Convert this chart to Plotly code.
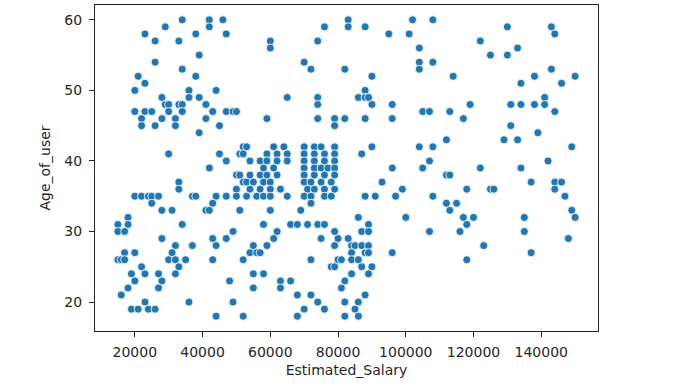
import plotly.graph_objects as go

# Estimated salary of each user, grouped by age row
estimated_salary = [
    34000, 42000, 46000, 83000, 102000, 108000,
    29000, 42000, 76000, 83000, 88000, 130000, 143000,
    23000, 38000, 47000, 95000, 101000, 144000,
    26000, 33000, 60000, 74000, 122000,
    60000, 104000, 133000,
    39000, 125000, 130000,
    26000, 70000, 104000, 108000,
    34000, 72000, 82000, 104000, 143000,
    21000, 38000, 90000, 114000, 138000, 150000,
    23000, 134000, 146000,
    20000, 36000, 44000, 88000,
    28000, 36000, 39000, 65000, 74000, 86000, 88000, 89000, 141000,
    29000, 30000, 33000, 34000, 41000, 74000, 90000, 96000, 119000, 131000, 134000, 138000, 141000,
    20000, 23000, 25000, 30000, 34000, 43000, 47000, 49000, 50000, 105000, 107000, 113000, 144000,
    22000, 28000, 32000, 41000, 59000, 74000, 79000, 82000, 88000, 96000, 117000,
    22000, 26000, 32000, 45000, 79000, 131000,
    39000, 139000,
    112000, 129000, 133000,
    52000, 53000, 61000, 64000, 70000, 73000, 75000, 79000, 90000, 104000, 108000, 149000,
    30000, 45000, 51000, 52000, 59000, 62000, 65000, 70000, 73000, 76000, 79000, 87000,
    47000, 54000, 57000, 59000, 62000, 65000, 70000, 73000, 76000, 79000, 107000, 142000,
    42000, 58000, 61000, 70000, 73000, 75000, 77000, 79000, 96000, 105000, 122000, 134000,
    50000, 51000, 54000, 57000, 59000, 62000, 70000, 73000, 76000, 79000, 112000, 113000,
    33000, 52000, 53000, 55000, 58000, 60000, 70000, 72000, 75000, 78000, 93000, 137000, 144000, 146000,
    33000, 50000, 54000, 57000, 60000, 63000, 71000, 73000, 76000, 79000, 99000, 118000, 125000, 126000, 144000,
    20000, 22000, 24000, 25000, 27000, 37000, 38000, 44000, 47000, 50000, 53000, 56000, 58000, 60000,
    65000, 70000, 72000, 76000, 78000, 88000, 91000, 97000, 108000, 147000,
    25000, 43000, 72000, 112000, 115000,
    28000, 31000, 41000, 42000, 51000, 60000, 69000, 113000, 149000,
    18000, 86000, 100000, 117000, 120000, 135000, 150000,
    15000, 18000, 34000, 58000, 66000, 68000, 71000, 74000, 76000, 89000, 118000,
    15000, 17000, 49000, 62000, 79000, 87000, 89000, 107000, 116000, 135000,
    28000, 43000, 47000, 61000, 75000, 80000, 83000, 148000,
    32000, 37000, 44000, 55000, 59000, 79000, 84000, 85000, 87000, 89000, 123000,
    17000, 20000, 31000, 54000, 56000, 57000, 84000, 88000, 89000, 96000, 137000,
    15000, 16000, 17000, 30000, 32000, 35000, 43000, 52000, 72000, 80000, 81000, 84000, 86000, 118000,
    22000, 33000, 78000, 79000, 87000, 90000,
    19000, 23000, 27000, 32000, 55000, 58000, 84000, 89000,
    20000, 28000, 48000, 63000, 66000, 82000,
    18000, 27000, 55000, 63000, 81000,
    16000, 68000, 72000, 88000,
    23000, 36000, 49000, 74000, 82000, 86000,
    19000, 21000, 24000, 26000, 70000, 76000, 85000,
    44000, 52000, 68000, 82000, 86000,
]

# Age of each user, same order as estimated_salary
age_of_user = [
    60, 60, 60, 60, 60, 60,
    59, 59, 59, 59, 59, 59, 59,
    58, 58, 58, 58, 58, 58,
    57, 57, 57, 57, 57,
    56, 56, 56,
    55, 55, 55,
    54, 54, 54, 54,
    53, 53, 53, 53, 53,
    52, 52, 52, 52, 52, 52,
    51, 51, 51,
    50, 50, 50, 50,
    49, 49, 49, 49, 49, 49, 49, 49, 49,
    48, 48, 48, 48, 48, 48, 48, 48, 48, 48, 48, 48, 48,
    47, 47, 47, 47, 47, 47, 47, 47, 47, 47, 47, 47, 47,
    46, 46, 46, 46, 46, 46, 46, 46, 46, 46, 46,
    45, 45, 45, 45, 45, 45,
    44, 44,
    43, 43, 43,
    42, 42, 42, 42, 42, 42, 42, 42, 42, 42, 42, 42,
    41, 41, 41, 41, 41, 41, 41, 41, 41, 41, 41, 41,
    40, 40, 40, 40, 40, 40, 40, 40, 40, 40, 40, 40,
    39, 39, 39, 39, 39, 39, 39, 39, 39, 39, 39, 39,
    38, 38, 38, 38, 38, 38, 38, 38, 38, 38, 38, 38,
    37, 37, 37, 37, 37, 37, 37, 37, 37, 37, 37, 37, 37, 37,
    36, 36, 36, 36, 36, 36, 36, 36, 36, 36, 36, 36, 36, 36, 36,
    35, 35, 35, 35, 35, 35, 35, 35, 35, 35, 35, 35, 35, 35,
    35, 35, 35, 35, 35, 35, 35, 35, 35, 35,
    34, 34, 34, 34, 34,
    33, 33, 33, 33, 33, 33, 33, 33, 33,
    32, 32, 32, 32, 32, 32, 32,
    31, 31, 31, 31, 31, 31, 31, 31, 31, 31, 31,
    30, 30, 30, 30, 30, 30, 30, 30, 30, 30,
    29, 29, 29, 29, 29, 29, 29, 29,
    28, 28, 28, 28, 28, 28, 28, 28, 28, 28, 28,
    27, 27, 27, 27, 27, 27, 27, 27, 27, 27, 27,
    26, 26, 26, 26, 26, 26, 26, 26, 26, 26, 26, 26, 26, 26,
    25, 25, 25, 25, 25, 25,
    24, 24, 24, 24, 24, 24, 24, 24,
    23, 23, 23, 23, 23, 23,
    22, 22, 22, 22, 22,
    21, 21, 21, 21,
    20, 20, 20, 20, 20, 20,
    19, 19, 19, 19, 19, 19, 19,
    18, 18, 18, 18, 18,
]

assert len(estimated_salary) == len(age_of_user), (len(estimated_salary), len(age_of_user))

x_tickvals = [20000, 40000, 60000, 80000, 100000, 120000, 140000]
y_tickvals = [20, 30, 40, 50, 60]

FONT = "DejaVu Sans"
INK = "#262626"

fig = go.Figure(
    go.Scatter(
        x=estimated_salary,
        y=age_of_user,
        mode="markers",
        marker=dict(color="#1f77b4", size=8, line=dict(color="white", width=0.8)),
        showlegend=False,
        hoverinfo="skip",
    )
)

axis_common = dict(
    showline=True,
    linecolor=INK,
    linewidth=1,
    mirror=True,
    showgrid=False,
    zeroline=False,
    ticks="outside",
    ticklen=5,
    tickwidth=1,
    tickcolor=INK,
    tickfont=dict(family=FONT, size=14, color=INK),
)

fig.update_xaxes(
    **axis_common,
    range=[8250, 156750],
    tickvals=x_tickvals,
    ticktext=[str(v) for v in x_tickvals],
    ticklabelstandoff=3,
    title=dict(text="Estimated_Salary", font=dict(family=FONT, size=14, color=INK), standoff=6),
)
fig.update_yaxes(
    **axis_common,
    range=[15.9, 62.1],
    tickvals=y_tickvals,
    ticktext=[str(v) for v in y_tickvals],
    ticklabelstandoff=4,
    title=dict(text="Age_of_user", font=dict(family=FONT, size=14, color=INK), standoff=10),
)

fig.update_layout(
    width=700,
    height=392,
    margin=dict(l=95, r=102, t=5, b=61),
    paper_bgcolor="white",
    plot_bgcolor="white",
    font=dict(family=FONT, color=INK),
)

# remove the browser's default 8px page margin so the figure sits at the window origin
fig.write_html(
    "out.html",
    config={"displayModeBar": False},
    post_script="document.body.style.margin='0px';document.body.style.overflow='hidden';",
)
